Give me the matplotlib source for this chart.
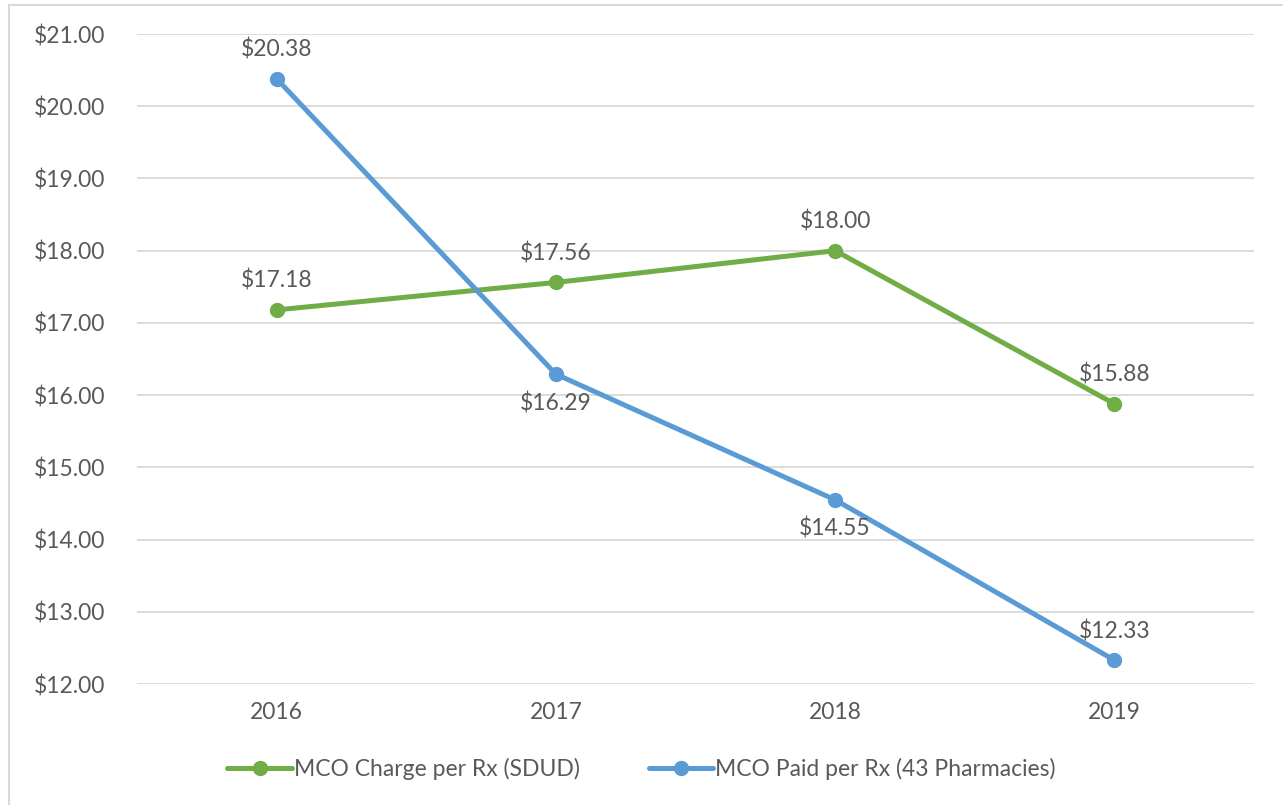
import matplotlib.pyplot as plt
from matplotlib.patches import Rectangle
from matplotlib.ticker import FuncFormatter

plt.rcParams["font.family"] = ["Lato", "DejaVu Sans"]

years = ["2016", "2017", "2018", "2019"]
charge = [17.18, 17.56, 18.00, 15.88]
paid = [20.38, 16.29, 14.55, 12.33]
charge_label = "MCO Charge per Rx (SDUD)"
paid_label = "MCO Paid per Rx (43 Pharmacies)"

GREEN = "#70AD47"
BLUE = "#5B9BD5"
TEXT = "#595959"
FS = 16.5

fig = plt.figure(figsize=(12.83, 8.05), dpi=100)
ax = fig.add_axes([137 / 1283, 1 - 684 / 805, 1117 / 1283, 650 / 805])

# outer chart frame (cut off on right/bottom like the source)
fig.patches.append(Rectangle((9 / 1283, -0.05), 1.2, 1 - 5 / 805 + 0.05,
                             transform=fig.transFigure, fill=False,
                             edgecolor="#D9D9D9", linewidth=1.5))

x = range(len(years))
ax.plot(x, charge, color=GREEN, lw=3.6, marker="o", ms=10, label=charge_label,
        solid_capstyle="round", zorder=3)
ax.plot(x, paid, color=BLUE, lw=3.6, marker="o", ms=10, label=paid_label,
        solid_capstyle="round", zorder=3)

for i, v in enumerate(charge):
    ax.annotate(f"${v:.2f}", (i, v), xytext=(0, 13), textcoords="offset points",
                ha="center", va="bottom", fontsize=FS, color=TEXT)
paid_pos = ["above", "below", "below", "above"]
for i, v in enumerate(paid):
    if paid_pos[i] == "above":
        ax.annotate(f"${v:.2f}", (i, v), xytext=(0, 13), textcoords="offset points",
                    ha="center", va="bottom", fontsize=FS, color=TEXT)
    else:
        ax.annotate(f"${v:.2f}", (i, v), xytext=(0, -13), textcoords="offset points",
                    ha="center", va="top", fontsize=FS, color=TEXT)

ax.set_xlim(-0.5, 3.5)
ax.set_ylim(12, 21)
ax.set_yticks(range(12, 22))
ax.yaxis.set_major_formatter(FuncFormatter(lambda v, _: f"${v:.2f}"))
ax.set_xticks(list(x))
ax.set_xticklabels(years)
ax.tick_params(axis="both", length=0, labelsize=FS, labelcolor=TEXT)
ax.tick_params(axis="y", pad=23)
ax.tick_params(axis="x", pad=13)
ax.grid(axis="y", color="#D9D9D9", lw=1.3)
ax.set_axisbelow(True)
for s in ax.spines.values():
    s.set_visible(False)

fig.legend(loc="center", bbox_to_anchor=(0.5, 1 - 769 / 805), ncol=2,
           frameon=False, fontsize=FS, labelcolor=TEXT, handlelength=2.8,
           handletextpad=0.1, columnspacing=3.0)

fig.savefig("out.png", dpi=100)
